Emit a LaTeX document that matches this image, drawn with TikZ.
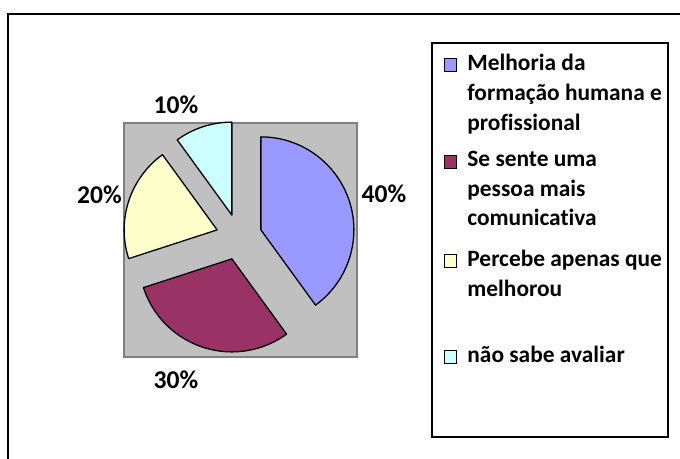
\documentclass[tikz,border=0pt]{standalone}
\usepackage{fontspec}
\setmainfont[Ligatures=NoCommon]{Carlito}
\usetikzlibrary{positioning}

\definecolor{melhoria}{HTML}{9999FF}
\definecolor{comunica}{HTML}{993366}
\definecolor{percebe}{HTML}{FFFFCC}
\definecolor{naosabe}{HTML}{CCFFFF}
\definecolor{plotgray}{HTML}{C0C0C0}
\definecolor{plotedge}{HTML}{808080}

\begin{document}
\begin{tikzpicture}[x=0.5pt,y=0.5pt]
    % Pie radius
    \newcommand{\pieradius}{93}
    % Explode distance
    \newcommand{\explode}{23}
    % Styles
    \tikzstyle{slice}=[draw=black, line width=0.65pt, line join=round]
    \tikzstyle{key}=[draw=black, line width=0.6pt, minimum size=6.25pt, inner sep=0]
    \tikzstyle{keytext}=[anchor=north west, inner sep=0, align=left,
      font=\fontsize{11.7}{14.8}\selectfont\bfseries]
    \tikzstyle{percent}=[inner sep=0, font=\fontsize{12.8}{15}\selectfont\bfseries]
    \useasboundingbox (0,0) rectangle (680,459);

    % Outer frame
    \draw[line width=0.8pt] (8,0) -- (8,445) -- (680,445);

    % Plot area
    \draw[fill=plotgray, draw=plotedge, line width=0.6pt] (124,102) rectangle (357,336);

    % Slices
    \foreach \start/\stop/\col in {90/-54/melhoria, -54/-162/comunica,
      -162/-234/percebe, -234/-270/naosabe}
      {
        \pgfmathsetmacro{\midangle}{(\start+\stop)/2}
        \draw[slice, fill=\col, shift={(\midangle:\explode)}]
        (239,222) -- ++(\start:\pieradius)
        arc[start angle=\start, end angle=\stop, radius=\pieradius] -- cycle;
      }

    % Percent labels
    \node[percent] (Label-1) at (384,265) {40\%};
    \node[percent] (Label-2) at (176,79) {30\%};
    \node[percent] (Label-3) at (99.5,264.5) {20\%};
    \node[percent] (Label-4) at (176,354.5) {10\%};

    % Legend
    \draw[line width=0.65pt] (432,22) rectangle (668,416);
    \foreach \y/\col/\txt [count=\i] in {
      394/melhoria/{Melhoria da\\formação humana e\\profissional},
      297/comunica/{Se sente uma\\pessoa mais\\comunicativa},
      198/percebe/{Percebe apenas que\\melhorou},
      102/naosabe/{não sabe avaliar}}
      {
        \node[key, fill=\col] (Key-\i) at (450.5,\y) {};
        \node[keytext] (Entry-\i) at (467,\y+11) {\txt};
      }
  \end{tikzpicture}
\end{document}
